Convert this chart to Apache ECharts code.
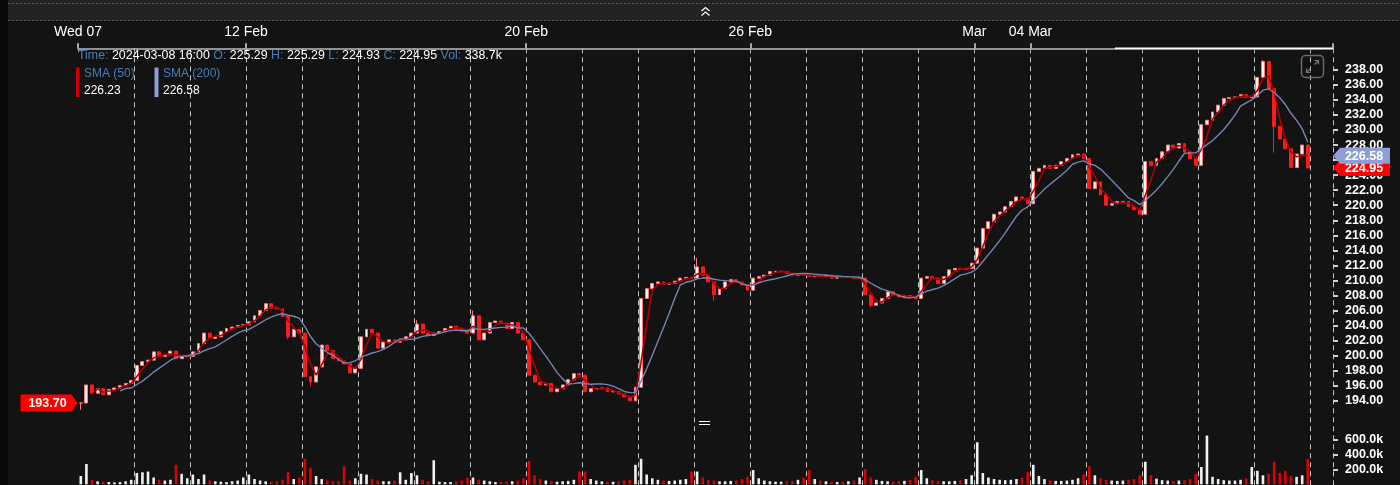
<!DOCTYPE html>
<html><head><meta charset="utf-8">
<script src="https://cdn.jsdelivr.net/npm/echarts@6/dist/echarts.min.js"></script>
<style>html,body{margin:0;padding:0;background:#131313;}#c{width:1400px;height:485px;}</style>
</head><body><div id="c"></div>
<script>
// ---------- data ----------
const tradingDays = ['2024-02-07','2024-02-08','2024-02-09','2024-02-12','2024-02-13','2024-02-14','2024-02-15','2024-02-16',
  '2024-02-20','2024-02-21','2024-02-22','2024-02-23','2024-02-26','2024-02-27','2024-02-28','2024-02-29',
  '2024-03-01','2024-03-04','2024-03-05','2024-03-06','2024-03-07','2024-03-08'];
const barsPerDay = 10;
const padBars = 4;
const closes = [
  193.7,196.1,195.0,195.6,194.8,195.5,195.7,196.0,196.3,196.7,
  198.7,199.2,199.4,200.5,199.9,200.1,200.6,199.6,199.9,199.9,
  200.5,201.6,203.0,202.3,202.5,203.2,203.6,203.8,204.0,204.1,
  204.5,205.3,206.0,206.9,206.3,206.2,205.2,202.5,203.5,203.0,
  197.2,196.5,198.5,201.4,200.7,199.6,199.3,198.9,197.7,198.3,
  202.5,203.5,203.0,201.0,201.8,202.1,201.8,202.1,202.5,203.0,
  204.2,203.0,202.7,203.0,203.2,203.6,203.9,203.6,203.4,203.0,
  205.3,202.1,203.0,204.4,204.6,204.3,203.6,204.4,203.0,202.1,
  197.4,196.5,196.1,196.3,195.2,195.6,196.1,196.8,197.6,197.4,
  195.2,195.6,195.6,195.7,195.2,195.2,194.9,194.5,194.0,195.8,
  207.6,208.9,209.6,209.8,209.5,209.6,209.9,210.3,210.4,210.3,
  211.8,210.7,209.8,208.1,208.9,209.8,210.1,209.8,209.4,208.7,
  210.3,210.5,210.7,211.2,211.2,211.2,210.9,210.7,210.8,210.7,
  210.5,210.7,210.5,210.7,210.3,210.5,210.4,210.4,210.3,210.3,
  208.1,206.7,207.0,207.6,208.5,208.1,207.8,208.0,207.7,207.6,
  210.3,210.5,210.3,209.6,210.5,211.4,211.6,211.5,211.6,212.3,
  214.3,216.9,217.8,218.8,219.1,219.8,220.5,221.1,220.9,220.2,
  224.5,224.9,225.3,224.9,225.3,225.8,226.2,226.7,226.8,226.2,
  222.2,223.1,221.4,220.0,220.2,220.5,220.5,219.8,219.4,218.8,
  225.8,225.3,226.2,227.1,228.0,227.6,228.2,227.1,226.2,225.3,
  230.7,231.3,232.4,233.3,234.2,234.3,234.4,234.7,234.3,234.4,
  237.0,239.1,235.5,230.5,228.8,227.5,225.0,226.8,228.0,224.95
];
// visible wick extremes (bar index, price)
const highIdx = [60, 70, 110, 211];
const highVal = [204.7, 206.0, 213.0, 239.3];
const lowIdx = [0, 37, 41, 113, 141, 213];
const lowVal = [192.8, 202.2, 195.9, 207.3, 206.4, 227.0];
const volumesK = [
  110,270,60,40,35,30,25,30,40,60,
  150,160,170,90,60,50,60,260,140,80,
  130,70,130,50,40,35,30,40,50,90,
  130,70,50,40,35,40,60,160,70,90,
  340,220,110,70,50,40,40,240,50,80,
  140,130,70,50,40,40,50,160,60,150,
  120,60,40,320,35,30,30,40,50,90,
  90,60,50,40,30,30,35,40,50,80,
  310,120,70,50,40,35,40,45,60,170,
  170,70,50,40,35,35,40,50,60,260,
  340,130,80,60,50,45,50,60,70,170,
  170,90,60,50,40,40,45,50,70,100,
  190,80,50,40,35,35,40,45,60,90,
  190,70,50,40,30,30,35,40,50,90,
  200,90,60,45,40,35,40,45,60,100,
  190,80,55,45,40,40,45,55,70,120,
  560,150,90,70,60,55,60,70,90,160,
  260,110,70,55,45,45,50,60,80,130,
  240,120,80,60,50,45,50,60,70,120,
  300,120,75,55,50,45,50,55,70,140,
  230,650,100,70,55,50,50,60,80,230,
  180,120,140,300,150,180,110,100,120,338.7
];
const axisLabelDays = [0,3,8,12,16,17];
const axisLabelTexts = ['Wed 07','12 Feb','20 Feb','26 Feb','Mar','04 Mar'];
const priceTicks = [194,196,198,200,202,204,206,208,210,212,214,216,218,220,222,224,226,228,230,232,234,236,238];
const volumeTicks = [200000,400000,600000];
const lastBar = ['2024-03-08 16:00','225.29','225.29','224.93','224.95','338.7k'];
const smaNames = ['SMA (50)','SMA (200)'];
const smaValues = ['226.23','226.58'];
const smaWindows = [3, 8];
const tagValues = [226.58, 224.95, 193.70];

// ---------- build ----------
const FONT = '"Liberation Sans", Arial, sans-serif';
const categories = [];
tradingDays.forEach(d => { for (let k = 0; k < barsPerDay; k++) categories.push(d + ' #' + k); });
for (let k = 0; k < padBars; k++) categories.push('pad' + k);
const nData = closes.length;

const candles = closes.map((c, i) => {
  const o = i === 0 ? c : closes[i - 1];
  return [o, c, Math.min(o, c), Math.max(o, c)];
});
highIdx.forEach((ix, k) => { candles[ix][3] = Math.max(candles[ix][3], highVal[k]); });
lowIdx.forEach((ix, k) => { candles[ix][2] = Math.min(candles[ix][2], lowVal[k]); });

const UP = '#fff4f4', DOWN = '#ff1a1a';
const vols = volumesK.map((v, i) => ({
  value: v * 1000,
  itemStyle: { color: candles[i][1] >= candles[i][0] ? '#f2f2f2' : '#e00000' }
}));
function sma(arr, n) {
  return arr.map((v, i) => {
    if (i < n - 1) return '-';
    let s = 0; for (let j = i - n + 1; j <= i; j++) s += arr[j];
    return +(s / n).toFixed(3);
  });
}
const labelIdx = new Map(axisLabelDays.map((d, k) => [d * barsPerDay, axisLabelTexts[k]]));
const isDayStart = i => i % barsPerDay === 0 && i <= nData;

const hiddenCat = (g) => ({
  type: 'category', gridIndex: g, data: categories, boundaryGap: true,
  axisLine: { show: false }, axisTick: { show: false }, axisLabel: { show: false }, splitLine: { show: false }
});

const option = {
  backgroundColor: '#131313',
  animation: false,
  grid: [
    { left: 78, right: 67, top: 54.8, height: 361 },
    { left: 78, right: 67, top: 424.3, height: 60 },
    { left: 78, right: 67, top: 48.3, bottom: 0 }
  ],
  xAxis: [
    hiddenCat(0),
    hiddenCat(1),
    {
      type: 'category', gridIndex: 2, data: categories, boundaryGap: true, position: 'top',
      axisLine: { show: true, onZero: false, lineStyle: { color: '#bdbdbd', width: 1.5 } },
      axisTick: { show: true, interval: (i) => labelIdx.has(i), length: 5, lineStyle: { color: '#d8d8d8', width: 1.5 } },
      axisLabel: {
        show: true, interval: (i) => labelIdx.has(i), formatter: (v, i) => labelIdx.get(i) || '',
        color: '#ffffff', fontSize: 14, fontFamily: FONT, margin: 9.5, padding: [0, 5.6, 0, 0]
      },
      splitLine: { show: true, interval: (i) => i > 0 && isDayStart(i), lineStyle: { color: '#c4c4c4', type: [5, 4], width: 1 } }
    },
    {
      type: 'category', gridIndex: 2, data: categories, boundaryGap: true, position: 'top',
      axisLine: { show: false, onZero: false }, axisLabel: { show: false }, splitLine: { show: false },
      axisTick: { show: true, inside: true, interval: (i) => isDayStart(i), length: 4, lineStyle: { color: '#aaaaaa' } }
    }
  ],
  yAxis: [
    {
      type: 'value', gridIndex: 0, position: 'right', min: 192, max: 240, interval: 2,
      axisLine: { show: false }, splitLine: { show: false },
      axisTick: { show: true, customValues: priceTicks, length: 5, lineStyle: { color: '#d0d0d0', width: 2 } },
      axisLabel: { customValues: priceTicks, formatter: v => v.toFixed(2), color: '#ffffff', fontWeight: 'bold', fontSize: 12.5, fontFamily: FONT, margin: 12 }
    },
    {
      type: 'value', gridIndex: 1, position: 'right', min: 0, max: 800000, interval: 200000,
      axisLine: { show: false }, splitLine: { show: false },
      axisTick: { show: true, customValues: volumeTicks, length: 5, lineStyle: { color: '#d0d0d0', width: 2 } },
      axisLabel: { customValues: volumeTicks, formatter: v => (v / 1000).toFixed(1) + 'k', color: '#ffffff', fontWeight: 'bold', fontSize: 12.5, fontFamily: FONT, margin: 12 }
    },
    { type: 'value', gridIndex: 2, show: false, min: 0, max: 1 }
  ],
  series: [
    {
      type: 'bar', name: 'Volume', xAxisIndex: 1, yAxisIndex: 1, data: vols, barWidth: 2.6
    },
    {
      type: 'candlestick', name: 'Price', xAxisIndex: 0, yAxisIndex: 0, data: candles, barWidth: 3.4,
      itemStyle: { color: UP, color0: DOWN, borderColor: '#ff7a7a', borderColor0: DOWN, borderWidth: 1 }
    },
    {
      type: 'line', name: smaNames[0], xAxisIndex: 0, yAxisIndex: 0, data: sma(closes, smaWindows[0]),
      showSymbol: false, lineStyle: { color: '#b00000', width: 1.6 }, z: 3
    },
    {
      type: 'line', name: smaNames[1], xAxisIndex: 0, yAxisIndex: 0, data: sma(closes, smaWindows[1]),
      showSymbol: false, lineStyle: { color: '#7384b6', width: 1.4 }, z: 4
    }
  ]
};

const chart = echarts.init(document.getElementById('c'));
chart.setOption(option);

// ---------- overlays ----------
const py = v => chart.convertToPixel({ yAxisIndex: 0 }, v);
const rightTag = (val, color, z) => {
  const y = py(val), h = 8;
  return [
    { type: 'polygon', z: z, shape: { points: [[1333, y], [1340, y - h], [1390, y - h], [1390, y + h], [1340, y + h]] }, style: { fill: color } },
    { type: 'text', z: z + 1, style: { x: 1364, y: y + 0.5, text: val.toFixed(2), align: 'center', verticalAlign: 'middle', fill: '#ffffff', fontSize: 12.5, fontWeight: 'bold', fontFamily: FONT } }
  ];
};
const yl = py(tagValues[2]);
const INFO = 12.4;
const g = [
  { type: 'rect', z: 50, shape: { x: 0, y: 0, width: 1400, height: 21 }, style: { fill: '#222222' } },
  { type: 'line', z: 51, shape: { x1: 0, y1: 3.5, x2: 1400, y2: 3.5 }, style: { stroke: '#5c5c5c', lineWidth: 1, lineDash: [2, 2] } },
  { type: 'line', z: 51, shape: { x1: 0, y1: 20.5, x2: 1400, y2: 20.5 }, style: { stroke: '#5c5c5c', lineWidth: 1, lineDash: [2, 2] } },
  { type: 'polyline', z: 52, shape: { points: [[701.5, 11], [705.5, 7.5], [709.5, 11]] }, style: { stroke: '#ffffff', lineWidth: 1.3, fill: null } },
  { type: 'polyline', z: 52, shape: { points: [[701.5, 15.5], [705.5, 12], [709.5, 15.5]] }, style: { stroke: '#ffffff', lineWidth: 1.3, fill: null } },
  { type: 'rect', z: 53, shape: { x: 0, y: 0, width: 8, height: 485 }, style: { fill: '#0a0a0a' } },
  { type: 'line', z: 20, shape: { x1: 1115, y1: 48.3, x2: 1333, y2: 48.3 }, style: { stroke: '#ffffff', lineWidth: 1.5 } },
  { type: 'text', z: 60, style: {
      x: 78, y: 55.5, verticalAlign: 'middle', fontSize: INFO, fontFamily: FONT,
      text: '{l|Time: }{v|' + lastBar[0] + '} {l|O: }{v|' + lastBar[1] + '} {l|H: }{v|' + lastBar[2] + '} {l|L: }{v|' + lastBar[3] + '} {l|C: }{v|' + lastBar[4] + '} {l|Vol: }{v|' + lastBar[5] + '}',
      rich: { l: { fill: '#4a7db5', fontSize: INFO, fontFamily: FONT }, v: { fill: '#ffffff', fontSize: INFO, fontFamily: FONT } }
  } },
  { type: 'rect', z: 60, shape: { x: 76, y: 67.5, width: 3.5, height: 29.5 }, style: { fill: '#d00000' } },
  { type: 'rect', z: 60, shape: { x: 154.5, y: 67.5, width: 4, height: 29.5 }, style: { fill: '#8b9fd9' } },
  { type: 'text', z: 60, style: { x: 84, y: 74, verticalAlign: 'middle', text: smaNames[0], fill: '#4a7db5', fontSize: 12, fontFamily: FONT } },
  { type: 'text', z: 60, style: { x: 84, y: 90.5, verticalAlign: 'middle', text: smaValues[0], fill: '#ffffff', fontSize: 12, fontFamily: FONT } },
  { type: 'text', z: 60, style: { x: 163, y: 74, verticalAlign: 'middle', text: smaNames[1], fill: '#4a7db5', fontSize: 12, fontFamily: FONT } },
  { type: 'text', z: 60, style: { x: 163, y: 90.5, verticalAlign: 'middle', text: smaValues[1], fill: '#ffffff', fontSize: 12, fontFamily: FONT } },
  { type: 'rect', z: 60, shape: { x: 1301.5, y: 55.5, width: 22, height: 22, r: 4 }, style: { fill: null, stroke: '#6a6a6a', lineWidth: 1.5 } },
  { type: 'line', z: 60, shape: { x1: 1306.5, y1: 72.5, x2: 1310.5, y2: 68.5 }, style: { stroke: '#777777', lineWidth: 1.2 } },
  { type: 'line', z: 60, shape: { x1: 1314.5, y1: 64.5, x2: 1318.5, y2: 60.5 }, style: { stroke: '#777777', lineWidth: 1.2 } },
  { type: 'polyline', z: 60, shape: { points: [[1314.5, 60.5], [1318.5, 60.5], [1318.5, 64.5]] }, style: { stroke: '#777777', lineWidth: 1.2, fill: null } },
  { type: 'polyline', z: 60, shape: { points: [[1306.5, 68.5], [1306.5, 72.5], [1310.5, 72.5]] }, style: { stroke: '#777777', lineWidth: 1.2, fill: null } },
  { type: 'line', z: 60, shape: { x1: 699, y1: 421.5, x2: 710, y2: 421.5 }, style: { stroke: '#ffffff', lineWidth: 1 } },
  { type: 'line', z: 60, shape: { x1: 699, y1: 424.5, x2: 710, y2: 424.5 }, style: { stroke: '#ffffff', lineWidth: 1 } },
  ...rightTag(tagValues[1], '#ff0000', 70),
  ...rightTag(tagValues[0], '#8c9fd6', 72),
  { type: 'polygon', z: 70, shape: { points: [[20.5, yl - 8.5], [71.5, yl - 8.5], [77.5, yl], [71.5, yl + 8.5], [20.5, yl + 8.5]] }, style: { fill: '#ff0000' } },
  { type: 'text', z: 71, style: { x: 47.5, y: yl + 0.5, text: tagValues[2].toFixed(2), align: 'center', verticalAlign: 'middle', fill: '#ffffff', fontSize: 12.5, fontWeight: 'bold', fontFamily: FONT } }
];
chart.setOption({ graphic: g });
</script>
</body></html>
